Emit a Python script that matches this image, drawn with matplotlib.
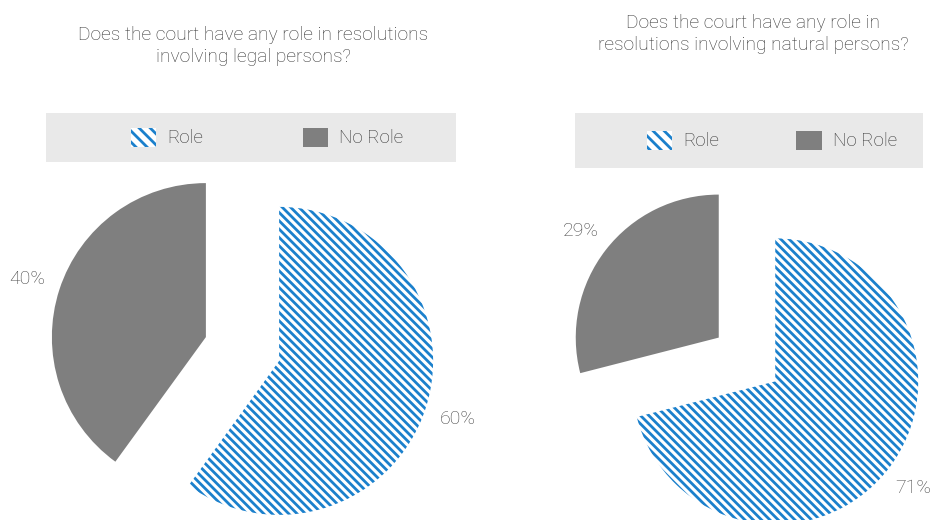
import matplotlib
matplotlib.use("Agg")
import matplotlib.pyplot as plt
from matplotlib.patches import Patch, Rectangle

plt.rcParams['font.family'] = ['Roboto', 'DejaVu Sans']
plt.rcParams['font.weight'] = 'light'
plt.rcParams['hatch.linewidth'] = 2.0

labels = ["Role", "No Role"]
legal_values = [60, 40]
natural_values = [71, 29]
titles = ["Does the court have any role in resolutions\ninvolving legal persons?",
          "Does the court have any role in\nresolutions involving natural persons?"]

BLUE = "#1b80cc"
GRAY = "#7f7f7f"
TEXT = "#333333"
HATCH = "\\\\\\\\"
W, H = 939, 520


def draw_pie(fig, values, cx, cy, r):
    lim = 1.6
    side = 2 * lim * r
    ax = fig.add_axes([(cx - side / 2) / W, (H - cy - side / 2) / H,
                       side / W, side / H])
    wedges, texts, autotexts = ax.pie(
        values, startangle=90, counterclock=False, explode=[0.25, 0.25],
        autopct=lambda p: f"{p:.0f}%", pctdistance=1.22,
        colors=["white", GRAY], wedgeprops=dict(linewidth=0))
    wedges[0].set_hatch(HATCH)
    wedges[0].set_edgecolor(BLUE)
    wedges[1].set_edgecolor(GRAY)
    for t in autotexts:
        t.set_fontsize(14)
        t.set_color("#444444")
    ax.set_xlim(-lim, lim)
    ax.set_ylim(-lim, lim)
    ax.set_aspect("equal")
    ax.axis("off")
    return ax


def draw_legend(fig, x0, x1, y0, y1, px, colspace):
    fig.patches.append(Rectangle((x0 / W, (H - y1) / H), (x1 - x0) / W,
                                 (y1 - y0) / H, transform=fig.transFigure,
                                 facecolor="#e9e9e9", edgecolor="none",
                                 zorder=0))
    handles = [Patch(facecolor="white", edgecolor=BLUE, hatch="\\\\\\",
                     linewidth=0),
               Patch(facecolor=GRAY, edgecolor=GRAY, linewidth=0)]
    fig.legend(handles, labels, loc="center left",
               bbox_to_anchor=(px / W, (H - (y0 + y1) / 2) / H),
               ncol=2, frameon=False, fontsize=13.5, labelcolor=TEXT,
               handlelength=1.35, handleheight=1.2, handletextpad=0.6,
               columnspacing=colspace, borderpad=0, borderaxespad=0)


fig = plt.figure(figsize=(W / 100, H / 100), dpi=100)

draw_pie(fig, legal_values, 242.5, 349, 154)
draw_pie(fig, natural_values, 747, 359.5, 143)

fig.text(253 / W, 1 - 46 / H, titles[0], ha="center", va="center",
         fontsize=13.8, color=TEXT, linespacing=1.25)
fig.text(753 / W, 1 - 34 / H, titles[1], ha="center", va="center",
         fontsize=13.8, color=TEXT, linespacing=1.25)

draw_legend(fig, 46, 456, 113, 162, 131, 5.3)
draw_legend(fig, 575, 923, 113, 168, 647, 4.1)

fig.savefig("out.png", dpi=100)
